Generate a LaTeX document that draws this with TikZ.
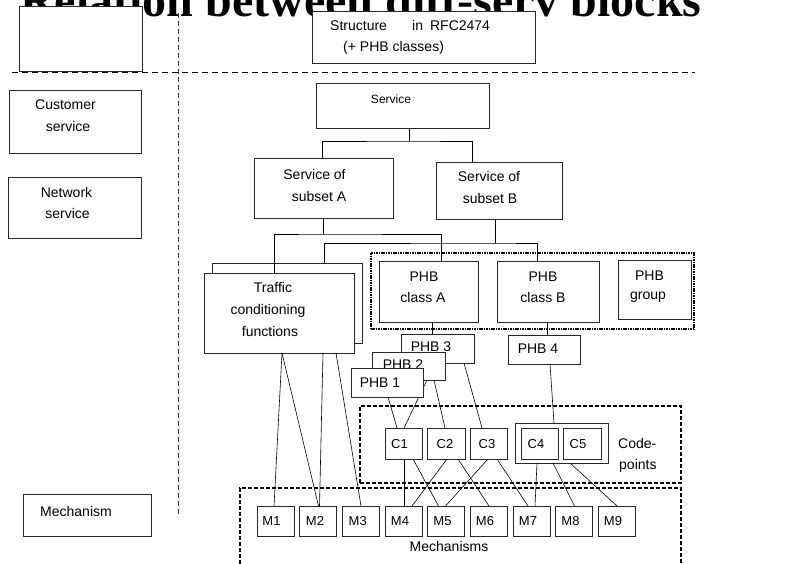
\documentclass[tikz,border=0pt]{standalone}
\usepackage{fontspec}
\setmainfont{Liberation Sans}
\newfontfamily\titlefont{Liberation Serif}
\newcommand\mybox[6][]{%
  \pgfmathsetmacro\bxcx{(#3+#5)/2}\pgfmathsetmacro\bxcy{(#4+#6)/2}%
  \pgfmathsetmacro\bxw{#5-#3}\pgfmathsetmacro\bxh{#6-#4}%
  \node[box,#1,minimum width=\bxw pt,minimum height=\bxh pt] (#2) at (\bxcx,\bxcy) {};}
\newcommand\mytext[4][]{\node[txt,#1] (#2) at (#3) {#4};}
\begin{document}
\begin{tikzpicture}[x=1pt,y=-1pt,
  box/.style={draw=black!85, line width=0.8pt, fill=white, inner sep=0pt, outer sep=0pt},
  cont/.style={draw=black, fill=none, line width=1.3pt, dash pattern=on 4pt off 2pt},
  dotcont/.style={draw=black, fill=none, line width=1.3pt, dash pattern=on 1.6pt off 0.8pt},
  txt/.style={inner sep=0pt, anchor=base, font=\fontsize{14}{16}\selectfont},
  stxt/.style={inner sep=0pt, anchor=base, font=\fontsize{13}{15}\selectfont},
  conn/.style={draw=black, line width=0.6pt},
  hdash/.style={draw=black, line width=0.9pt, dash pattern=on 6pt off 4pt},
  vdash/.style={draw=black!80, line width=0.9pt, dash pattern=on 5pt off 3pt}]
\useasboundingbox (0,0) rectangle (793,564);
\clip (0,0) rectangle (793,564);
% title
\node[anchor=base west, inner sep=0pt, font=\titlefont\bfseries\fontsize{48}{50}\selectfont] (title) at (20,17) {Relation between diff-serv blocks};
% dividers
\draw[hdash] (12,72) -- (695,72);
\draw[vdash] (178,13) -- (178,515);
% left column
\mybox{tl}{19}{6}{142}{71}
\mybox{cust}{9}{90}{141}{153}
\mytext{custa}{65.5,110}{Customer}
\mytext{custb}{68,132}{service}
\mybox{net}{8}{177}{141}{238}
\mytext{neta}{66.5,198}{Network}
\mytext{netb}{67.5,219}{service}
\mybox{mech}{23}{494}{151}{536}
\mytext{mecht}{76,516}{Mechanism}
% structure
\mybox{struct}{312}{11}{535}{63}
\mytext[anchor=base west]{sta}{330,31}{Structure}
\mytext[anchor=base west]{stb}{412,31}{in\hspace{7pt}RFC2474}
\mytext[anchor=base west]{stc}{343,52}{(+ PHB classes)}
% service tree
\mybox{serv}{316}{83}{489}{128}
\node[inner sep=0pt, anchor=base, font=\fontsize{12}{14}\selectfont] (servt) at (391,104) {Service};
\mybox{subA}{254}{158}{393}{218}
\mytext{subAa}{314.5,180}{Service of}
\mytext{subAb}{319,202}{subset A}
\mybox{subB}{436}{162}{562}{219}
\mytext{subBa}{489,182}{Service of}
\mytext{subBb}{490,204}{subset B}
% containers
\node[cont, inner sep=0pt, minimum width=441pt, minimum height=144pt] (mbox) at (460.5,560) {};
\mytext{mbt}{449,551}{Mechanisms}
\mybox[cont]{cpbox}{360}{406}{681}{483}
\mytext[anchor=base west]{cpa}{618,448}{Code-}
\mytext[anchor=base west]{cpb}{619,469}{points}
% boxes needed for connector names
\mybox{tcfback}{212}{263}{362}{343}
\mybox{tcf}{204}{273}{354}{353}
\mytext{tcfa}{273,293}{Traffic}
\mytext{tcfb}{268,315}{conditioning}
\mytext{tcfc}{270,337}{functions}
% M boxes
\foreach \n/\xl in {1/257,2/299,3/342,4/385,5/427,6/470,7/513,8/555,9/598}{
  \pgfmathsetmacro\xr{\xl+37}
  \mybox{M\n}{\xl}{506}{\xr}{536}
}
\foreach \n/\xc in {1/271.5,2/315,3/357.7,4/400,5/442.5,6/485,7/528,8/570.5,9/613}{
  \node[stxt] (Mt\n) at (\xc,525) {M\n};
}
% C boxes
\mybox{C45}{515}{423}{608}{463}
\mybox{C1}{385}{428}{422}{459}
\mybox{C2}{427}{428}{465}{459}
\mybox{C3}{470}{428}{507}{459}
\mybox{C4}{521}{428}{558}{459}
\mybox{C5}{563}{428}{601}{459}
\node[stxt] (Ct1) at (399.5,448.5) {C1};
\node[stxt] (Ct2) at (445,448.5) {C2};
\node[stxt] (Ct3) at (487,448.5) {C3};
\node[stxt] (Ct4) at (536,448.5) {C4};
\node[stxt] (Ct5) at (578,448.5) {C5};
% PHB group
\mybox[dotcont]{grp}{371}{253}{694}{329}
\mybox{phbA}{379}{261}{478}{322}
\mytext{phbAa}{424,282}{PHB}
\mytext{phbAb}{423,303}{class A}
\mybox{phbB}{497}{261}{599}{322}
\mytext{phbBa}{543,282}{PHB}
\mytext{phbBb}{543,303}{class B}
\mybox{phbG}{618}{260}{691}{319}
\mytext{phbGa}{649.5,280}{PHB}
\mytext{phbGb}{648,300}{group}
% PHB boxes (stacked)
\mybox{phb3}{401}{334}{474}{363}
\mytext{phb3t}{431,352}{PHB 3}
\mybox{phb2}{372}{352}{445}{380}
\mytext{phb2t}{403,369}{PHB 2}
\draw[conn] ([xshift=18.5pt]phb2.south) -- ([xshift=0.5pt]C1.north);
\mybox{phb1}{351}{368}{423}{397}
\mytext{phb1t}{380,387}{PHB 1}
\mybox{phb4}{508}{335}{580}{364}
\mytext{phb4t}{538,353}{PHB 4}
% lower connectors
\draw[conn] ([xshift=3.5pt]phbA.south) -- ([xshift=-5.5pt]phb3.north);
\draw[conn] ([xshift=-1pt]phbB.south) -- ([xshift=3pt]phb4.north);
\draw[conn] ([xshift=1pt]phb1.south) -- ([xshift=-6.5pt]C1.north);
\draw[conn] ([xshift=25.5pt]phb2.south) -- ([xshift=-1pt]C2.north);
\draw[conn] ([xshift=26.5pt]phb3.south) -- ([xshift=-6.5pt]C3.north);
\draw[conn] ([xshift=6pt]phb4.south) -- ([xshift=-7.5pt]C45.north);
\draw[conn] ([xshift=0.5pt]C1.south) -- ([xshift=0.5pt]M4.north);
\draw[conn] ([xshift=9.5pt]C1.south) -- ([xshift=-7pt]M5.north);
\draw[conn] ([xshift=1pt]C2.south) -- ([xshift=8.5pt]M4.north);
\draw[conn] ([xshift=12pt]C2.south) -- ([xshift=0.5pt]M6.north);
\draw[conn] ([xshift=-0.5pt]C3.south) -- (M5.north);
\draw[conn] ([xshift=8.5pt]C3.south) -- ([xshift=-3.5pt]M7.north);
\draw[conn] ([xshift=-24.5pt]C45.south) -- ([xshift=3.5pt]M7.north);
\draw[conn] ([xshift=-8.5pt]C45.south) -- ([xshift=1pt]M8.north);
\draw[conn] ([xshift=8.5pt]C45.south) -- ([xshift=0.5pt]M9.north);
\draw[conn] ([xshift=3pt]tcf.south) -- ([xshift=-1.5pt]M1.north);
\draw[conn] ([xshift=3pt]tcf.south) -- ([xshift=1pt]M2.north);
\draw[conn] ([xshift=44pt]tcf.south) -- ([xshift=2pt]M2.north);
\draw[conn] ([xshift=57pt]tcf.south) -- ([xshift=0.5pt]M3.north);
% tree connectors
\coordinate (js) at (409,141);
\coordinate (ja) at (323,234);
\coordinate (jb) at (495,243);
\draw[conn] ([xshift=6.5pt]serv.south) -- (js);
\draw[conn] ([xshift=-1.5pt]subA.north) |- (js) -| ([xshift=-27pt]subB.north);
\draw[conn] ([xshift=-0.5pt]subA.south) -- (ja);
\draw[conn] ([xshift=-5pt]tcf.north) |- (ja) -| ([xshift=12.5pt]phbA.north);
\draw[conn] ([xshift=-4pt]subB.south) -- (jb);
\draw[conn] ([xshift=37pt]tcfback.north) |- (jb) -| ([xshift=-11pt]phbB.north);
\end{tikzpicture}
\end{document}
